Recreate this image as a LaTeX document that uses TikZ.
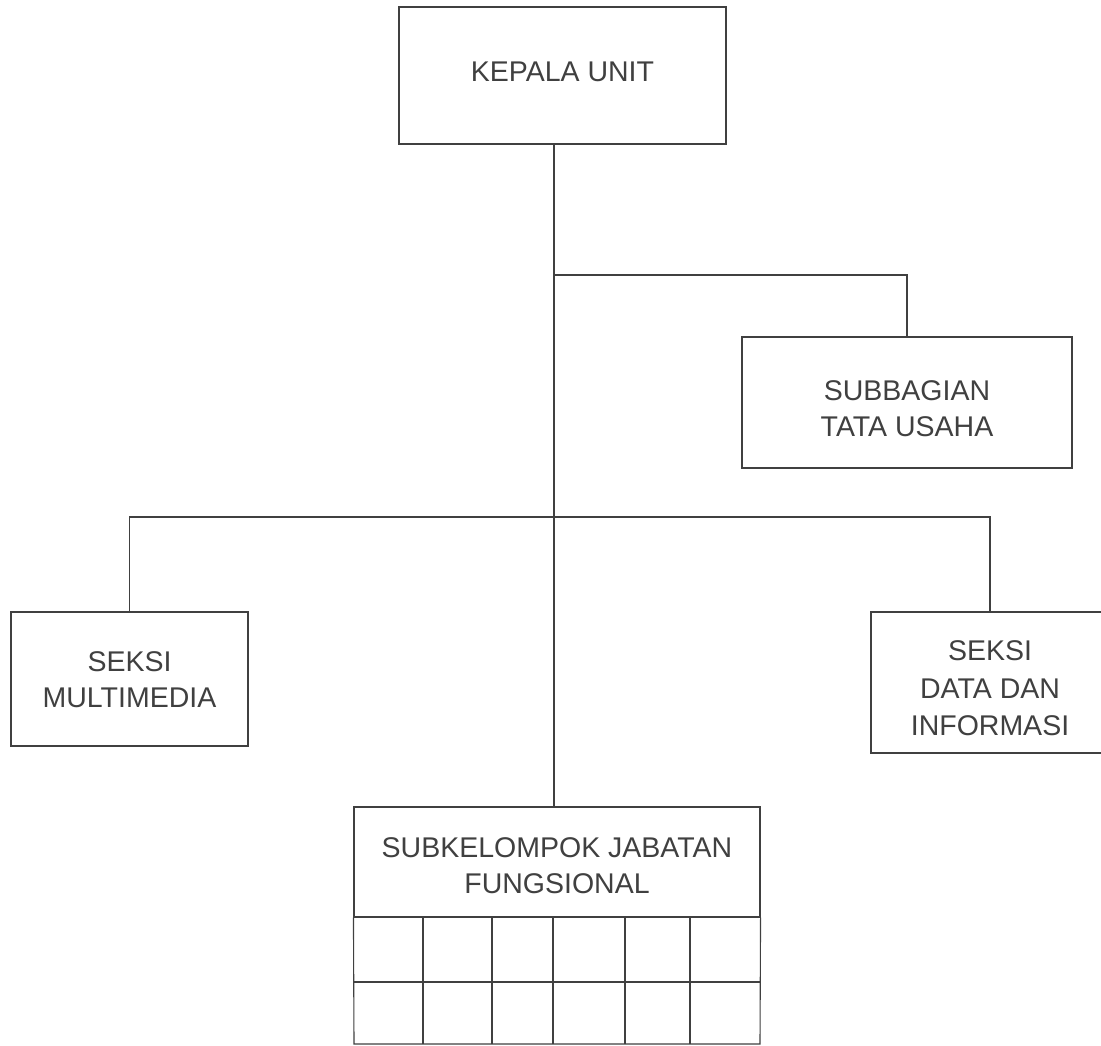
\documentclass[tikz,border=0pt]{standalone}
\usepackage{fontspec}
\setmainfont{Liberation Sans}
\begin{document}
\begin{tikzpicture}[x=1pt,y=1pt,
  box/.style={draw=black!75, line width=1.1pt, rectangle, inner sep=0pt},
  lbl/.style={inner sep=0pt, align=center, font=\fontsize{28.5}{36}\selectfont, text=black!75},
  conn/.style={draw=black!75, line width=1.1pt}]
\clip (0,0) rectangle (1101,-1046);
\fill[white] (0,0) rectangle (1101,-1046);
% boxes
\node[box, minimum width=327, minimum height=137] (kepala) at (562.5,-75.5) {};
\node[box, minimum width=330, minimum height=131] (subbag) at (907,-402.5) {};
\node[box, minimum width=237, minimum height=134] (multi) at (129.5,-679) {};
\node[box, minimum width=238, minimum height=141] (data) at (990,-682.5) {};
\node[box, minimum width=406, minimum height=110] (subkel) at (557,-862) {};
% labels
\node[lbl] (tkepala) at ([yshift=4]kepala.center) {KEPALA UNIT};
\node[lbl] (tsubbag) at ([yshift=-6]subbag.center) {SUBBAGIAN\\TATA USAHA};
\node[lbl] (tmulti) at ([yshift=-1]multi.center) {SEKSI\\MULTIMEDIA};
\node[lbl, font=\fontsize{28.5}{37.5}\selectfont] (tdata) at ([yshift=-6]data.center) {SEKSI\\DATA DAN\\INFORMASI};
\node[lbl] (tsubkel) at ([yshift=-4]subkel.center) {SUBKELOMPOK JABATAN\\FUNGSIONAL};
% grid under the functional group header
\coordinate (gbl) at (354,-1044);
\coordinate (gbr) at (760,-1044);
\draw[conn] (subkel.south west) -- (gbl) -- (gbr) -- (subkel.south east);
\draw[conn] (354,-982) -- (760,-982);
\foreach \gx in {423,492,553,625,690} {
  \draw[conn] (\gx,-917) -- (\gx,-1044);
}
% connectors
\coordinate (j1) at (554,-275);
\coordinate (j2) at (554,-517);
\draw[conn] (kepala.south -| j1) -- (subkel.north -| j1);
\draw[conn] (j1) -| (subbag.north);
\draw[conn] (multi.north) |- (j2);
\draw[conn] (j2) -| (data.north);
\end{tikzpicture}
\end{document}
